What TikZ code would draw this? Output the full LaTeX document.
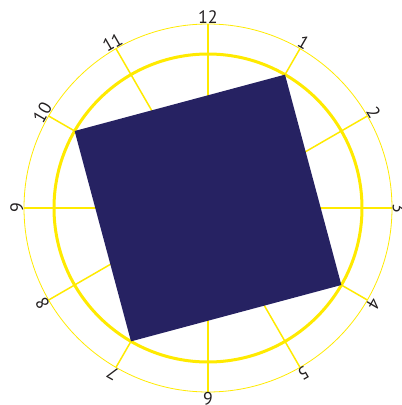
\documentclass[tikz,border=0pt]{standalone}
\usepackage{fontspec}
\setmainfont{PT Sans}
\definecolor{clockyellow}{HTML}{FFEA00}
\definecolor{navy}{HTML}{262262}
\definecolor{numgray}{HTML}{231F20}
\begin{document}
\begin{tikzpicture}[x=1pt,y=1pt,
  ring/.style={draw=clockyellow,line width=0.8pt},
  rimring/.style={draw=clockyellow,line width=3pt},
  tick/.style={draw=clockyellow,line width=1.5pt},
  hournum/.style={anchor=south,inner sep=0pt,text=numgray,font=\fontsize{18}{18}\selectfont}]
\useasboundingbox (-208,-197) rectangle (194,208);
\coordinate (c) at (0,0);
\foreach \h in {1,...,12}{
  \coordinate (t\h) at ({90-30*\h}:184);
  \draw[tick] (c) -- (t\h);
}
\draw[ring] (c) circle (184);
\draw[rimring] (c) circle (154);
\foreach \h in {1,...,12}{
  \node[hournum,rotate={-30*\h}] (n\h) at ({90-30*\h}:184.5) {\h};
}
\coordinate (s1) at (60:154);
\coordinate (s4) at (-30:154);
\coordinate (s7) at (-120:154);
\coordinate (s10) at (150:154);
\fill[navy] (s1) -- (s4) -- (s7) -- (s10) -- cycle;
\end{tikzpicture}
\end{document}
